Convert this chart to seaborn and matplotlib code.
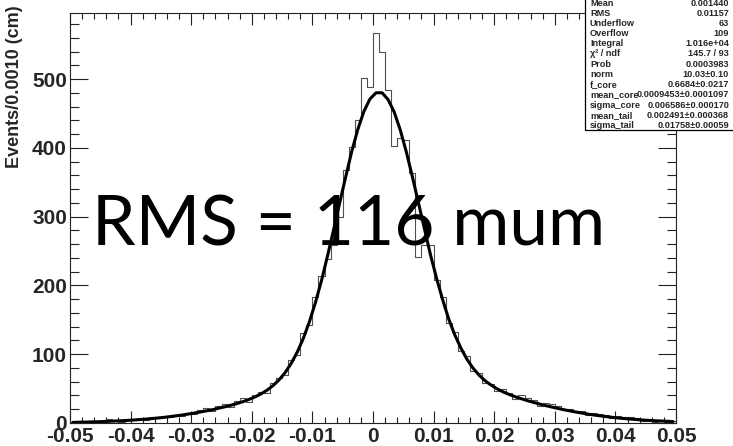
import numpy as np
import pandas as pd
import matplotlib
matplotlib.use("Agg")
import matplotlib.pyplot as plt
import seaborn as sns
from matplotlib.ticker import MultipleLocator, FuncFormatter
from matplotlib.patches import Rectangle

# ---------------- data ----------------
x_min, x_max, bin_width = -0.05, 0.05, 0.001

counts = [1, 2, 1, 3, 2, 1, 6, 3, 2, 5,
          4, 6, 5, 8, 7, 9, 8, 12, 10, 15,
          13, 19, 22, 18, 24, 27, 23, 32, 36, 30,
          40, 45, 44, 58, 66, 70, 92, 99, 131, 142,
          183, 214, 238, 259, 299, 368, 401, 440, 501, 488,
          567, 539, 484, 403, 414, 412, 363, 241, 259, 259,
          208, 183, 146, 133, 104, 97, 76, 72, 58, 57,
          47, 50, 44, 35, 40, 36, 33, 24, 29, 27,
          25, 21, 20, 18, 17, 11, 14, 13, 11, 7,
          10, 9, 8, 7, 3, 5, 2, 4, 2, 3]

fit_values = [0.95, 1.1, 1.3, 1.55, 1.8, 2.1, 2.5, 2.9, 3.3, 3.8,
              4.35, 5.0, 5.7, 6.4, 7.3, 8.2, 9.3, 10.4, 11.6, 13.0,
              14.4, 16.0, 17.6, 19.4, 21.4, 23.4, 25.7, 28.2, 30.9, 34.1,
              37.8, 42.2, 47.6, 54.3, 62.7, 73.3, 86.6, 103, 123, 147,
              175, 207, 243, 281, 320, 358, 395, 427, 453, 471,
              480, 480, 470, 452, 426, 394, 358, 320, 282, 244,
              210, 179, 151, 128, 109, 92.7, 79.9, 69.6, 61.4, 55.0,
              49.6, 45.1, 41.4, 38.1, 35.2, 32.4, 29.9, 27.5, 25.3, 23.2,
              21.2, 19.3, 17.6, 15.9, 14.4, 12.9, 11.6, 10.4, 9.3, 8.2,
              7.3, 6.4, 5.7, 5.0, 4.3, 3.8, 3.3, 2.9, 2.5, 2.1]

stat_names = ["Mean", "RMS", "Underflow", "Overflow", "Integral", "\u03c7\u00b2 / ndf",
              "Prob", "norm", "f_core", "mean_core", "sigma_core", "mean_tail", "sigma_tail"]
stat_values = ["0.001440", "0.01157", "63", "109", "1.016e+04", "145.7 / 93",
               "0.0003983", "10.03\u00b10.10", "0.6684\u00b10.0217",
               "0.0009453\u00b10.0001097", "0.006586\u00b10.000170",
               "0.002491\u00b10.000368", "0.01758\u00b10.00059"]

y_title = "Events/0.0010 (cm)"
big_label = "RMS = 116 mum"

# ---------------- figure ----------------
sns.set_style("white")
plt.rcParams["font.family"] = ["Liberation Sans Narrow", "Liberation Sans", "DejaVu Sans"]

W, H = 733, 446
fig = plt.figure(figsize=(W / 100, H / 100), dpi=100)
L, R, T, B = 70, 676, 13, 423
ax = fig.add_axes([L / W, 1 - B / H, (R - L) / W, (B - T) / H])

edges = [round(x_min + i * bin_width, 6) for i in range(len(counts) + 1)]
centers = [(edges[i] + edges[i + 1]) / 2 for i in range(len(counts))]
df = pd.DataFrame({"x": centers, "n": counts})
fit_df = pd.DataFrame({"x": centers, "f": fit_values})

sns.histplot(data=df, x="x", weights="n", bins=edges, element="step", fill=False,
             color="#505050", linewidth=0.8, ax=ax)
sns.lineplot(data=fit_df, x="x", y="f", color="black", linewidth=2.2, ax=ax)

ax.set_xlim(x_min, x_max)
ax.set_ylim(0, 596)
ax.set_xlabel("")
ax.set_ylabel("")

ax.xaxis.set_major_locator(MultipleLocator(0.01))
ax.xaxis.set_minor_locator(MultipleLocator(0.002))
ax.yaxis.set_major_locator(MultipleLocator(100))
ax.yaxis.set_minor_locator(MultipleLocator(20))


def xfmt(v, pos):
    if abs(v) < 1e-9:
        return "0"
    return f"{v:.2f}"


ax.xaxis.set_major_formatter(FuncFormatter(xfmt))
ax.yaxis.set_major_formatter(FuncFormatter(lambda v, p: f"{int(round(v))}"))

px = 72 / 100
ax.tick_params(axis="x", which="major", direction="in", length=12 * px, width=0.8,
               top=True, bottom=True, pad=4 * px, labelsize=15, color="#222222")
ax.tick_params(axis="x", which="minor", direction="in", length=6 * px, width=0.8,
               top=True, bottom=True, color="#222222")
ax.tick_params(axis="y", which="major", direction="in", length=18 * px, width=0.8,
               left=True, right=True, pad=3 * px, labelsize=15, color="#222222")
ax.tick_params(axis="y", which="minor", direction="in", length=9 * px, width=0.8,
               left=True, right=True, color="#222222")
for lab in ax.get_xticklabels() + ax.get_yticklabels():
    lab.set_fontweight("bold")
for s in ax.spines.values():
    s.set_color("#222222")
    s.set_linewidth(0.8)

fig.text(15 / W, 1 - 5 / H, y_title, rotation=90, ha="center", va="top",
         fontsize=13, fontweight="bold")

fig.text(349 / W, 1 - 245 / H, big_label, ha="center", va="baseline",
         fontsize=50, family=["Lato", "DejaVu Sans"], color="black")

# stats box
box = Rectangle((585 / W, 1 - 130 / H), 200 / W, 150 / H, transform=fig.transFigure,
                facecolor="white", edgecolor="black", linewidth=0.9, zorder=10)
fig.add_artist(box)
y0, dy = 3.0, 10.2
for i, (n, v) in enumerate(zip(stat_names, stat_values)):
    yy = 1 - (y0 + i * dy) / H
    fig.text(590 / W, yy, n, ha="left", va="center", fontsize=6.6, fontweight="bold",
             family=["Liberation Sans", "DejaVu Sans"], zorder=11)
    fig.text(729 / W, yy, v, ha="right", va="center", fontsize=6.6, fontweight="bold",
             family=["Liberation Sans", "DejaVu Sans"], zorder=11)

fig.savefig("out.png", dpi=100)
